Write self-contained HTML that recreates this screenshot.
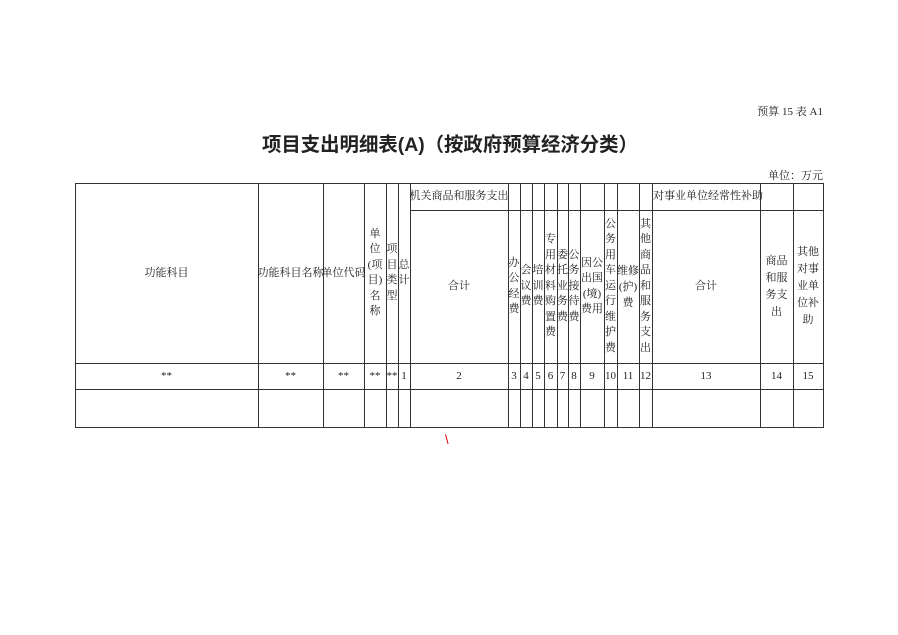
<!DOCTYPE html>
<html><head><meta charset="utf-8"><style>
html,body{margin:0;padding:0;background:#fff;width:898px;height:635px;overflow:hidden}
body{position:relative;font-family:"Liberation Serif","Noto Serif CJK SC",serif;color:#222;font-size:11px}
.t{position:absolute;display:flex;align-items:center;justify-content:center;text-align:center;line-height:17px;white-space:nowrap}
.v{line-height:15.5px;white-space:normal;word-break:break-all}
</style></head><body>
<div style="position:absolute;right:75px;top:103px;font-size:11px">预算 15 表 A1</div>
<div style="position:absolute;left:262px;top:128px;font-size:19.4px;font-weight:bold;font-family:'Liberation Sans','Noto Sans CJK SC',sans-serif;white-space:nowrap">项目支出明细表(A)（按政府预算经济分类）</div>
<div style="position:absolute;right:75px;top:167px;font-size:11px">单位：万元</div>
<div style="position:absolute;left:445px;top:432px;color:#d00;font-size:13px;font-family:'Liberation Sans',sans-serif">\</div>
<svg width="898" height="635" style="position:absolute;left:0;top:0" stroke="#333" stroke-width="1" shape-rendering="crispEdges">
<rect x="75.5" y="183.5" width="748" height="244" fill="none"/>
<g>
<line x1="258.5" y1="183" x2="258.5" y2="427"/>
<line x1="323.5" y1="183" x2="323.5" y2="427"/>
<line x1="364.5" y1="183" x2="364.5" y2="427"/>
<line x1="386.5" y1="183" x2="386.5" y2="427"/>
<line x1="398.5" y1="183" x2="398.5" y2="427"/>
<line x1="410.5" y1="183" x2="410.5" y2="427"/>
<line x1="508.5" y1="183" x2="508.5" y2="427"/>
<line x1="520.5" y1="183" x2="520.5" y2="427"/>
<line x1="532.5" y1="183" x2="532.5" y2="427"/>
<line x1="544.5" y1="183" x2="544.5" y2="427"/>
<line x1="557.5" y1="183" x2="557.5" y2="427"/>
<line x1="568.5" y1="183" x2="568.5" y2="427"/>
<line x1="580.5" y1="183" x2="580.5" y2="427"/>
<line x1="604.5" y1="183" x2="604.5" y2="427"/>
<line x1="617.5" y1="183" x2="617.5" y2="427"/>
<line x1="639.5" y1="183" x2="639.5" y2="427"/>
<line x1="652.5" y1="183" x2="652.5" y2="427"/>
<line x1="760.5" y1="183" x2="760.5" y2="427"/>
<line x1="793.5" y1="183" x2="793.5" y2="427"/>
</g>
<line x1="410" y1="210.5" x2="823" y2="210.5"/>
<line x1="75" y1="363.5" x2="823" y2="363.5"/>
<line x1="75" y1="389.5" x2="823" y2="389.5"/>
</svg>
<div class="t" style="left:75px;top:183px;width:183px;height:180px">功能科目</div>
<div class="t" style="left:258px;top:183px;width:65px;height:180px">功能科目名称</div>
<div class="t" style="left:323px;top:183px;width:41px;height:180px">单位代码</div>
<div class="t v" style="left:364px;top:183px;width:22px;height:180px">单<br>位<br>(项<br>目)<br>名<br>称</div>
<div class="t v" style="left:386px;top:183px;width:12px;height:180px">项<br>目<br>类<br>型</div>
<div class="t v" style="left:398px;top:183px;width:12px;height:180px">总<br>计</div>
<div class="t" style="left:410px;top:183px;width:98px;height:27px">机关商品和服务支出</div>
<div class="t" style="left:410px;top:210px;width:98px;height:153px">合计</div>
<div class="t v" style="left:508px;top:210px;width:12px;height:153px">办<br>公<br>经<br>费</div>
<div class="t v" style="left:520px;top:210px;width:12px;height:153px">会<br>议<br>费</div>
<div class="t v" style="left:532px;top:210px;width:12px;height:153px">培<br>训<br>费</div>
<div class="t v" style="left:544px;top:210px;width:13px;height:153px">专<br>用<br>材<br>料<br>购<br>置<br>费</div>
<div class="t v" style="left:557px;top:210px;width:11px;height:153px">委<br>托<br>业<br>务<br>费</div>
<div class="t v" style="left:568px;top:210px;width:12px;height:153px">公<br>务<br>接<br>待<br>费</div>
<div class="t" style="left:580px;top:210px;width:24px;height:153px;white-space:normal;line-height:15.5px">因公出国(境)费用</div>
<div class="t v" style="left:604px;top:210px;width:13px;height:153px">公<br>务<br>用<br>车<br>运<br>行<br>维<br>护<br>费</div>
<div class="t" style="left:617px;top:210px;width:22px;height:153px;white-space:normal;line-height:16px">维修(护)费</div>
<div class="t v" style="left:639px;top:210px;width:13px;height:153px">其<br>他<br>商<br>品<br>和<br>服<br>务<br>支<br>出</div>
<div class="t" style="left:652px;top:183px;width:108px;height:27px;justify-content:flex-start;padding-left:1px">对事业单位经常性补助</div>
<div class="t" style="left:652px;top:210px;width:108px;height:153px">合计</div>
<div class="t" style="left:760px;top:210px;width:33px;height:153px;white-space:normal;line-height:17px;padding:0 4px;box-sizing:border-box">商品和服务支出</div>
<div class="t" style="left:793px;top:210px;width:30px;height:153px;white-space:normal;line-height:17px;padding:0 3px;box-sizing:border-box">其他对事业单位补助</div>
<div class="t" style="left:75px;top:363px;width:183px;height:26px">**</div>
<div class="t" style="left:258px;top:363px;width:65px;height:26px">**</div>
<div class="t" style="left:323px;top:363px;width:41px;height:26px">**</div>
<div class="t" style="left:364px;top:363px;width:22px;height:26px">**</div>
<div class="t" style="left:386px;top:363px;width:12px;height:26px">**</div>
<div class="t" style="left:398px;top:363px;width:12px;height:26px">1</div>
<div class="t" style="left:410px;top:363px;width:98px;height:26px">2</div>
<div class="t" style="left:508px;top:363px;width:12px;height:26px">3</div>
<div class="t" style="left:520px;top:363px;width:12px;height:26px">4</div>
<div class="t" style="left:532px;top:363px;width:12px;height:26px">5</div>
<div class="t" style="left:544px;top:363px;width:13px;height:26px">6</div>
<div class="t" style="left:557px;top:363px;width:11px;height:26px">7</div>
<div class="t" style="left:568px;top:363px;width:12px;height:26px">8</div>
<div class="t" style="left:580px;top:363px;width:24px;height:26px">9</div>
<div class="t" style="left:604px;top:363px;width:13px;height:26px">10</div>
<div class="t" style="left:617px;top:363px;width:22px;height:26px">11</div>
<div class="t" style="left:639px;top:363px;width:13px;height:26px">12</div>
<div class="t" style="left:652px;top:363px;width:108px;height:26px">13</div>
<div class="t" style="left:760px;top:363px;width:33px;height:26px">14</div>
<div class="t" style="left:793px;top:363px;width:30px;height:26px">15</div>
</body></html>
